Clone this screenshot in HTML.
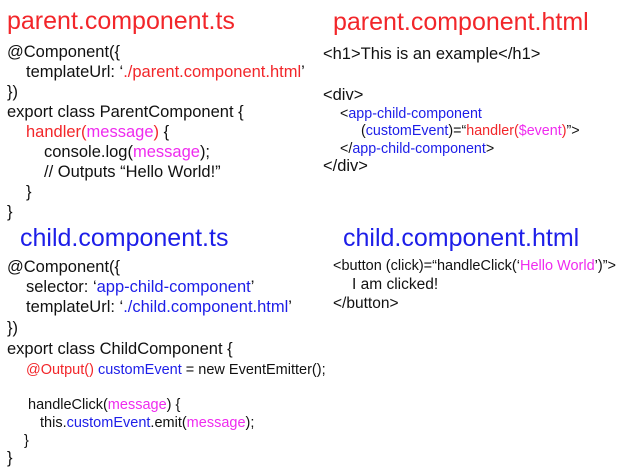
<!DOCTYPE html>
<html><head><meta charset="utf-8"><style>
body{margin:0;width:624px;height:468px;background:#fff;position:relative;overflow:hidden;font-family:"Liberation Sans",Arial,sans-serif;color:#111}
.l{position:absolute;white-space:pre;line-height:20px;font-size:16.5px}
.t{font-size:25px;line-height:30px}
.r{color:#f2262a}.m{color:#ef2bef}.b{color:#1d1ee8}
</style></head><body>
<div class="l t r" style="left:7px;top:6px">parent.component.ts</div>
<div class="l" style="left:7px;top:42px">@Component({</div>
<div class="l" style="left:26px;top:62px">templateUrl: ‘<span class="r">./parent.component.html</span>’</div>
<div class="l" style="left:7px;top:82px">})</div>
<div class="l" style="left:7px;top:102px">export class ParentComponent {</div>
<div class="l" style="left:26px;top:122px"><span class="r">handler(</span><span class="m">message</span><span class="r">)</span> {</div>
<div class="l" style="left:44px;top:142px">console.log(<span class="m">message</span>);</div>
<div class="l" style="left:44px;top:162px">// Outputs “Hello World!”</div>
<div class="l" style="left:26px;top:182px">}</div>
<div class="l" style="left:7px;top:202px">}</div>

<div class="l t b" style="left:20px;top:223px">child.component.ts</div>
<div class="l" style="left:7px;top:257px">@Component({</div>
<div class="l" style="left:26px;top:277px">selector: ‘<span class="b">app-child-component</span>’</div>
<div class="l" style="left:26px;top:297px">templateUrl: ‘<span class="b">./child.component.html</span>’</div>
<div class="l" style="left:7px;top:318px">})</div>
<div class="l" style="left:7px;top:339px">export class ChildComponent {</div>
<div class="l" style="left:26px;top:360px;font-size:14.5px"><span class="r">@Output()</span> <span class="b">customEvent</span> = new EventEmitter();</div>
<div class="l" style="left:28px;top:395px;font-size:14.5px">handleClick(<span class="m">message</span>) {</div>
<div class="l" style="left:40px;top:413px;font-size:14.5px">this.<span class="b">customEvent</span>.emit(<span class="m">message</span>);</div>
<div class="l" style="left:24px;top:431px;font-size:14.5px">}</div>
<div class="l" style="left:7px;top:448px">}</div>

<div class="l t r" style="left:333px;top:7px">parent.component.html</div>
<div class="l" style="left:323px;top:44px;font-size:16.5px">&lt;h1&gt;This is an example&lt;/h1&gt;</div>
<div class="l" style="left:323px;top:85px;font-size:16.5px">&lt;div&gt;</div>
<div class="l" style="left:340px;top:104px;font-size:14.3px">&lt;<span class="b">app-child-component</span></div>
<div class="l" style="left:361px;top:121px;font-size:14.3px">(<span class="b">customEvent</span>)=“<span class="r">handler(</span><span class="m">$event</span><span class="r">)</span>”&gt;</div>
<div class="l" style="left:340px;top:139px;font-size:14.3px">&lt;/<span class="b">app-child-component</span>&gt;</div>
<div class="l" style="left:323px;top:156px;font-size:16.5px">&lt;/div&gt;</div>

<div class="l t b" style="left:343px;top:223px">child.component.html</div>
<div class="l" style="left:333px;top:256px;font-size:14.5px">&lt;button (click)=“handleClick(‘<span class="m">Hello World</span>’)”&gt;</div>
<div class="l" style="left:352px;top:275px;font-size:15.5px">I am clicked!</div>
<div class="l" style="left:333px;top:294px;font-size:15.5px">&lt;/button&gt;</div>
</body></html>
